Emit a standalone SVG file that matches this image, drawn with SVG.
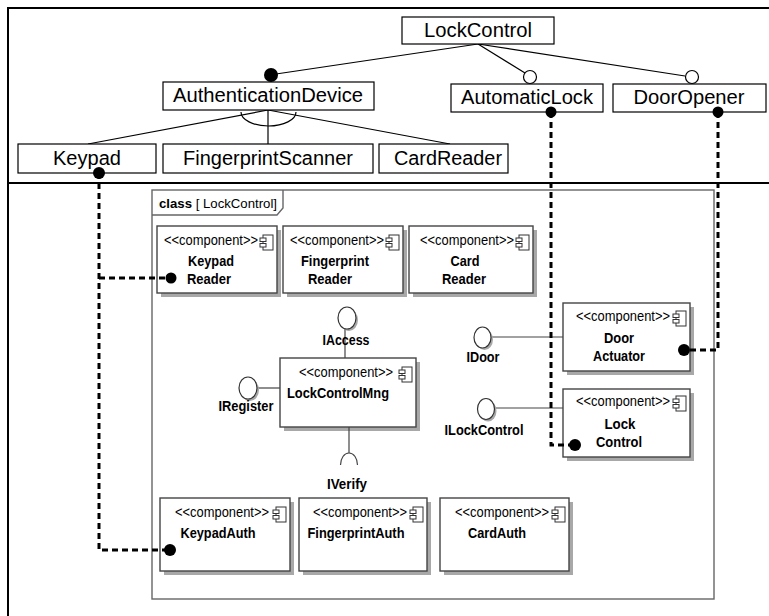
<svg xmlns="http://www.w3.org/2000/svg" width="769" height="616" viewBox="0 0 769 616">
<style>
.frame{fill:none;stroke:#000;stroke-width:2}
.fbox{fill:#fff;stroke:#000;stroke-width:1.2}
.ftxt{font-family:"Liberation Sans",Arial,sans-serif;font-size:20px;fill:#000;text-anchor:middle}
.fl{fill:none;stroke:#000;stroke-width:1.2}
.cbox{fill:#fff;stroke:#444;stroke-width:1.4}
.shadow{fill:#a8a8a8}
.icon{fill:#fff;stroke:#333;stroke-width:1}
.st{font-family:"Liberation Sans",Arial,sans-serif;font-size:14px;fill:#000;text-anchor:end}
.nm{font-family:"Liberation Sans",Arial,sans-serif;font-size:15px;font-weight:bold;fill:#000;text-anchor:middle}
.lbl{font-family:"Liberation Sans",Arial,sans-serif;font-size:15px;font-weight:bold;fill:#000;text-anchor:middle}
.lol{fill:#fff;stroke:#333;stroke-width:1.2}
.ll{fill:none;stroke:#444;stroke-width:1.2}
.dash{fill:none;stroke:#000;stroke-width:3;stroke-dasharray:6 4}
.dot{fill:#000}
.hole{fill:#fff;stroke:#000;stroke-width:1.2}
.cf{fill:none;stroke:#666;stroke-width:1.4}
</style>
<defs>
<g id="cicon">
<rect class="icon" x="3" y="0" width="10" height="15"/>
<rect class="icon" x="0" y="3" width="6" height="3.5"/>
<rect class="icon" x="0" y="8.5" width="6" height="3.5"/>
</g>
</defs>
<rect x="0" y="0" width="769" height="616" fill="#fff"/>

<!-- outer frame -->
<g id="outer-frame">
<rect class="frame" x="8" y="8" width="800" height="700"/>
<line class="frame" x1="8" y1="183" x2="769" y2="183"/>
</g>

<!-- feature model connectors -->
<g id="feature-connectors">
<line class="fl" x1="478" y1="44" x2="276" y2="74"/>
<line class="fl" x1="478" y1="44" x2="525" y2="73"/>
<line class="fl" x1="478" y1="44" x2="685" y2="76"/>
<line class="fl" x1="88" y1="144" x2="268" y2="110"/>
<line class="fl" x1="268" y1="110" x2="268" y2="144"/>
<line class="fl" x1="268" y1="110" x2="450" y2="144"/>
<path class="fl" d="M241,112 A27.5,14 0 0 0 296,112"/>
<circle class="dot" cx="271" cy="75" r="7"/>
<circle class="hole" cx="530" cy="77" r="6.5"/>
<circle class="hole" cx="692" cy="77" r="6.5"/>
</g>

<g id="f-LockControl"><rect class="fbox" x="402" y="17" width="152" height="27"/><text class="ftxt" x="478" y="37" textLength="108" lengthAdjust="spacingAndGlyphs">LockControl</text></g>
<g id="f-AuthenticationDevice"><rect class="fbox" x="163" y="82" width="211" height="28"/><text class="ftxt" x="268" y="102" textLength="190" lengthAdjust="spacingAndGlyphs">AuthenticationDevice</text></g>
<g id="f-AutomaticLock"><rect class="fbox" x="451" y="84" width="152" height="28"/><text class="ftxt" x="527" y="104" textLength="132" lengthAdjust="spacingAndGlyphs">AutomaticLock</text></g>
<g id="f-DoorOpener"><rect class="fbox" x="613" y="84" width="153" height="28"/><text class="ftxt" x="689" y="104" textLength="111" lengthAdjust="spacingAndGlyphs">DoorOpener</text></g>
<g id="f-Keypad"><rect class="fbox" x="18" y="144" width="138" height="29"/><text class="ftxt" x="87" y="165" textLength="68" lengthAdjust="spacingAndGlyphs">Keypad</text></g>
<g id="f-FingerprintScanner"><rect class="fbox" x="163" y="144" width="210" height="29"/><text class="ftxt" x="268" y="165" textLength="170" lengthAdjust="spacingAndGlyphs">FingerprintScanner</text></g>
<g id="f-CardReader"><rect class="fbox" x="379" y="144" width="129" height="29"/><text class="ftxt" x="448" y="165" textLength="108" lengthAdjust="spacingAndGlyphs">CardReader</text></g>

<!-- class frame -->
<g id="class-frame">
<rect class="cf" x="152" y="190" width="562" height="409"/>
<path class="cf" d="M152,215 H277 L283,208 V190"/>
<text x="159" y="208" font-family="'Liberation Sans',Arial,sans-serif" font-size="13.5" textLength="118" lengthAdjust="spacingAndGlyphs"><tspan font-weight="bold">class</tspan> [ LockControl]</text>
</g>

<!-- components -->
<g id="c-KeypadReader">
<rect class="shadow" x="161" y="230" width="120" height="67"/><rect class="cbox" x="157" y="226" width="120" height="67"/>
<use href="#cicon" x="260" y="235"/>
<text class="st" x="258" y="245" textLength="94" lengthAdjust="spacingAndGlyphs">&lt;&lt;component&gt;&gt;</text>
<text class="nm" x="211" y="266" textLength="46" lengthAdjust="spacingAndGlyphs">Keypad</text>
<text class="nm" x="209" y="284" textLength="44" lengthAdjust="spacingAndGlyphs">Reader</text>
</g>
<g id="c-FingerprintReader">
<rect class="shadow" x="287" y="230" width="120" height="67"/><rect class="cbox" x="283" y="226" width="120" height="67"/>
<use href="#cicon" x="386" y="235"/>
<text class="st" x="384" y="245" textLength="94" lengthAdjust="spacingAndGlyphs">&lt;&lt;component&gt;&gt;</text>
<text class="nm" x="335" y="266" textLength="68" lengthAdjust="spacingAndGlyphs">Fingerprint</text>
<text class="nm" x="330" y="284" textLength="44" lengthAdjust="spacingAndGlyphs">Reader</text>
</g>
<g id="c-CardReader">
<rect class="shadow" x="413" y="230" width="124" height="67"/><rect class="cbox" x="409" y="226" width="124" height="67"/>
<use href="#cicon" x="516" y="235"/>
<text class="st" x="514" y="245" textLength="94" lengthAdjust="spacingAndGlyphs">&lt;&lt;component&gt;&gt;</text>
<text class="nm" x="465" y="266" textLength="29" lengthAdjust="spacingAndGlyphs">Card</text>
<text class="nm" x="464" y="284" textLength="44" lengthAdjust="spacingAndGlyphs">Reader</text>
</g>
<g id="c-LockControlMng">
<rect class="shadow" x="284" y="362" width="136" height="69"/><rect class="cbox" x="280" y="358" width="136" height="69"/>
<use href="#cicon" x="399" y="367"/>
<text class="st" x="393" y="377" textLength="94" lengthAdjust="spacingAndGlyphs">&lt;&lt;component&gt;&gt;</text>
<text class="nm" x="338" y="398" textLength="102" lengthAdjust="spacingAndGlyphs">LockControlMng</text>
</g>
<g id="c-DoorActuator">
<rect class="shadow" x="567" y="307" width="127" height="68"/><rect class="cbox" x="563" y="303" width="127" height="68"/>
<use href="#cicon" x="673" y="311"/>
<text class="st" x="670" y="321" textLength="94" lengthAdjust="spacingAndGlyphs">&lt;&lt;component&gt;&gt;</text>
<text class="nm" x="619" y="343" textLength="30" lengthAdjust="spacingAndGlyphs">Door</text>
<text class="nm" x="619" y="361" textLength="52" lengthAdjust="spacingAndGlyphs">Actuator</text>
</g>
<g id="c-LockControl">
<rect class="shadow" x="567" y="393" width="127" height="68"/><rect class="cbox" x="563" y="389" width="127" height="68"/>
<use href="#cicon" x="673" y="396"/>
<text class="st" x="670" y="406" textLength="94" lengthAdjust="spacingAndGlyphs">&lt;&lt;component&gt;&gt;</text>
<text class="nm" x="620" y="429" textLength="31" lengthAdjust="spacingAndGlyphs">Lock</text>
<text class="nm" x="619" y="447" textLength="46" lengthAdjust="spacingAndGlyphs">Control</text>
</g>
<g id="c-KeypadAuth">
<rect class="shadow" x="164" y="502" width="130" height="73"/><rect class="cbox" x="160" y="498" width="130" height="73"/>
<use href="#cicon" x="273" y="507"/>
<text class="st" x="269" y="517" textLength="94" lengthAdjust="spacingAndGlyphs">&lt;&lt;component&gt;&gt;</text>
<text class="nm" x="218" y="538" textLength="75" lengthAdjust="spacingAndGlyphs">KeypadAuth</text>
</g>
<g id="c-FingerprintAuth">
<rect class="shadow" x="303" y="502" width="128" height="73"/><rect class="cbox" x="299" y="498" width="128" height="73"/>
<use href="#cicon" x="410" y="507"/>
<text class="st" x="407" y="517" textLength="94" lengthAdjust="spacingAndGlyphs">&lt;&lt;component&gt;&gt;</text>
<text class="nm" x="356" y="538" textLength="97" lengthAdjust="spacingAndGlyphs">FingerprintAuth</text>
</g>
<g id="c-CardAuth">
<rect class="shadow" x="444" y="502" width="129" height="73"/><rect class="cbox" x="440" y="498" width="129" height="73"/>
<use href="#cicon" x="552" y="507"/>
<text class="st" x="549" y="517" textLength="94" lengthAdjust="spacingAndGlyphs">&lt;&lt;component&gt;&gt;</text>
<text class="nm" x="497" y="538" textLength="58" lengthAdjust="spacingAndGlyphs">CardAuth</text>
</g>

<!-- interfaces -->
<g id="i-IAccess">
<line class="ll" x1="345" y1="329" x2="345" y2="358"/>
<ellipse class="shadow" cx="349" cy="320" rx="9" ry="11"/>
<ellipse class="lol" cx="347" cy="318" rx="9" ry="11"/>
<text class="lbl" x="346" y="345" textLength="47" lengthAdjust="spacingAndGlyphs">IAccess</text>
</g>
<g id="i-IRegister">
<line class="ll" x1="257" y1="388" x2="280" y2="388"/>
<ellipse class="shadow" cx="250" cy="390" rx="9" ry="11"/>
<ellipse class="lol" cx="248" cy="388" rx="9" ry="11"/>
<text class="lbl" x="246" y="411" textLength="55" lengthAdjust="spacingAndGlyphs">IRegister</text>
</g>
<g id="i-IVerify">
<line class="ll" x1="349" y1="427" x2="349" y2="453"/>
<path class="ll" d="M340.5,465 A8.5,12 0 0 1 357.5,465"/>
<text class="lbl" x="347" y="489" textLength="40" lengthAdjust="spacingAndGlyphs">IVerify</text>
</g>
<g id="i-IDoor">
<line class="ll" x1="491" y1="337" x2="563" y2="337"/>
<ellipse class="shadow" cx="484.5" cy="339.5" rx="8.5" ry="10.5"/>
<ellipse class="lol" cx="482.5" cy="337.5" rx="8.5" ry="10.5"/>
<text class="lbl" x="483" y="362" textLength="33" lengthAdjust="spacingAndGlyphs">IDoor</text>
</g>
<g id="i-ILockControl">
<line class="ll" x1="495" y1="408" x2="563" y2="408"/>
<ellipse class="shadow" cx="488" cy="411" rx="8.5" ry="10.5"/>
<ellipse class="lol" cx="486" cy="409" rx="8.5" ry="10.5"/>
<text class="lbl" x="484" y="435" textLength="79" lengthAdjust="spacingAndGlyphs">ILockControl</text>
</g>

<!-- traceability connectors -->
<g id="connectors">
<path class="dash" d="M99,173 V550 H170"/>
<path class="dash" d="M99,278 H171"/>
<path class="dash" d="M551,112 V445 H575"/>
<path class="dash" d="M718,112 V350 H684"/>
<circle class="dot" cx="99" cy="173" r="6"/>
<circle class="dot" cx="171" cy="278" r="5.5"/>
<circle class="dot" cx="170" cy="550" r="6"/>
<circle class="dot" cx="551" cy="112" r="5.5"/>
<circle class="dot" cx="718" cy="112" r="5.5"/>
<circle class="dot" cx="575" cy="445" r="6"/>
<circle class="dot" cx="684" cy="350" r="6"/>
</g>
</svg>
